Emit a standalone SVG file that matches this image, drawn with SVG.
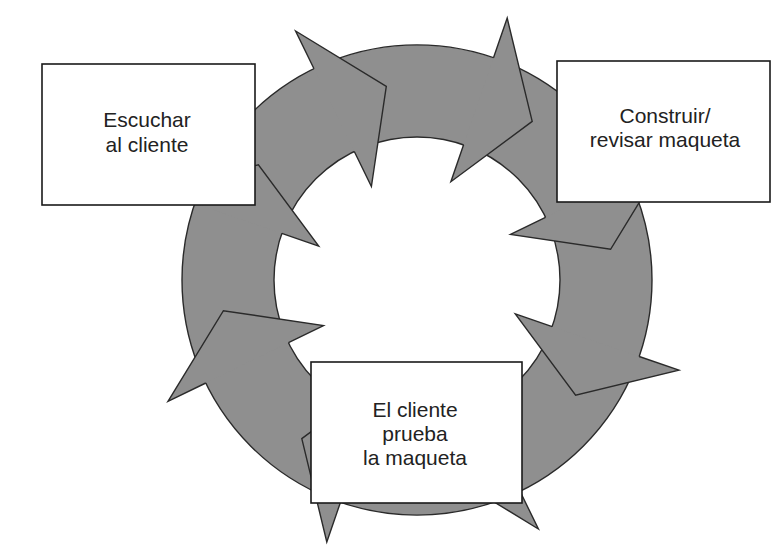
<svg xmlns="http://www.w3.org/2000/svg" width="781" height="552" viewBox="0 0 781 552">
<style>
.ring{fill:#8f8f8f;stroke:#2a2a2a;stroke-width:1.4;fill-rule:evenodd}
.hf{fill:#8f8f8f;stroke:none}
.he{fill:none;stroke:#2a2a2a;stroke-width:1.4;stroke-linejoin:miter}
.box{fill:#ffffff;stroke:#1a1a1a;stroke-width:1.6}
.lbl{font-family:"Liberation Sans",Arial,sans-serif;font-size:21px;fill:#222;text-anchor:middle}
</style>
<rect x="0" y="0" width="781" height="552" fill="#ffffff"/>
<g id="connectors">
  <path class="ring" d="M182,280 A235,235 0 1,0 652,280 A235,235 0 1,0 182,280 Z M274,280 A143,143 0 1,1 560,280 A143,143 0 1,1 274,280 Z"/>
  <g id="head-a"><polygon class="hf" points="295.6,31 386.3,86.4 371.4,186.5"/><polyline class="he" points="314,68.8 295.6,31 386.3,86.4 371.4,186.5 354.3,151.5"/></g>
  <g id="head-b"><polygon class="hf" points="507.2,18.1 532.2,121.4 450.9,181.7"/><polyline class="he" points="493.5,57.8 507.2,18.1 532.2,121.4 450.9,181.7 463.6,144.8"/></g>
  <g id="head-c"><polygon class="hf" points="666,158.6 610.6,249.3 510.5,234.4"/><polyline class="he" points="628.2,177 666,158.6 610.6,249.3 510.5,234.4 545.5,217.3"/></g>
  <g id="head-d"><polygon class="hf" points="678.9,370.2 575.6,395.2 515.3,313.9"/><polyline class="he" points="639.2,356.5 678.9,370.2 575.6,395.2 515.3,313.9 552.2,326.6"/></g>
  <g id="head-e"><polygon class="hf" points="538.4,529 447.7,473.6 462.6,373.5"/><polyline class="he" points="520,491.2 538.4,529 447.7,473.6 462.6,373.5 479.7,408.5"/></g>
  <g id="head-f"><polygon class="hf" points="326.8,541.9 301.8,438.6 383.1,378.3"/><polyline class="he" points="340.5,502.2 326.8,541.9 301.8,438.6 383.1,378.3 370.4,415.2"/></g>
  <g id="head-g"><polygon class="hf" points="168,401.4 223.4,310.7 323.5,325.6"/><polyline class="he" points="205.8,383 168,401.4 223.4,310.7 323.5,325.6 288.5,342.7"/></g>
  <g id="head-h"><polygon class="hf" points="155.1,189.8 258.4,164.8 318.7,246.1"/><polyline class="he" points="194.8,203.5 155.1,189.8 258.4,164.8 318.7,246.1 281.8,233.4"/></g>
</g>
<g id="node-escuchar">
  <rect class="box" x="42" y="64" width="213" height="141"/>
  <text class="lbl" x="147" y="127">Escuchar</text>
  <text class="lbl" x="147" y="152">al cliente</text>
</g>
<g id="node-construir">
  <rect class="box" x="557" y="61" width="213" height="141"/>
  <text class="lbl" x="665" y="123">Construir/</text>
  <text class="lbl" x="665" y="147">revisar maqueta</text>
</g>
<g id="node-prueba">
  <rect class="box" x="311" y="362" width="211" height="141"/>
  <text class="lbl" x="415" y="417">El cliente</text>
  <text class="lbl" x="415" y="441">prueba</text>
  <text class="lbl" x="415" y="465">la maqueta</text>
</g>
</svg>
